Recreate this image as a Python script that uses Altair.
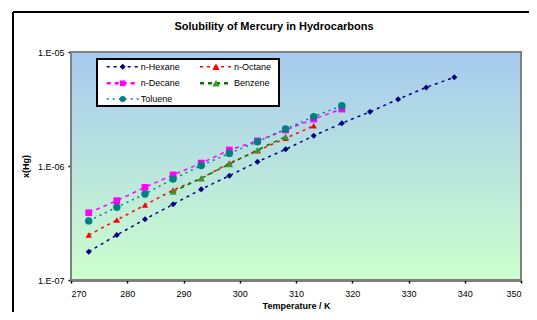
import altair as alt
import pandas as pd

title_text = "Solubility of Mercury in Hydrocarbons"
x_title = "Temperature / K"
y_title = "x(Hg)"
x_ticks = [270, 280, 290, 300, 310, 320, 330, 340, 350]
y_ticks = [1e-7, 1e-6, 1e-5]

series_names = ["n-Hexane", "n-Octane", "n-Decane", "Benzene", "Toluene"]

hexane_T = [273.15, 278.15, 283.15, 288.15, 293.15, 298.15, 303.15, 308.15,
            313.15, 318.15, 323.15, 328.15, 333.15, 338.15]
hexane_x = [1.77e-7, 2.48e-7, 3.41e-7, 4.61e-7, 6.25e-7, 8.22e-7, 1.09e-6, 1.40e-6,
            1.84e-6, 2.37e-6, 2.99e-6, 3.85e-6, 4.89e-6, 6.00e-6]

octane_T = [273.15, 278.15, 283.15, 288.15, 293.15, 298.15, 303.15, 308.15, 313.15]
octane_x = [2.48e-7, 3.36e-7, 4.55e-7, 6.15e-7, 7.79e-7, 1.06e-6, 1.36e-6, 1.75e-6, 2.25e-6]

decane_T = [273.15, 278.15, 283.15, 288.15, 293.15, 298.15, 303.15, 308.15, 313.15, 318.15]
decane_x = [3.89e-7, 4.96e-7, 6.50e-7, 8.35e-7, 1.06e-6, 1.38e-6, 1.66e-6, 2.07e-6, 2.58e-6, 3.16e-6]

benzene_T = [288.15, 293.15, 298.15, 303.15, 308.15]
benzene_x = [5.96e-7, 7.80e-7, 1.04e-6, 1.38e-6, 1.81e-6]

toluene_T = [273.15, 278.15, 283.15, 288.15, 293.15, 298.15, 303.15, 308.15, 313.15, 318.15]
toluene_x = [3.30e-7, 4.35e-7, 5.68e-7, 7.69e-7, 1.01e-6, 1.29e-6, 1.63e-6, 2.11e-6, 2.71e-6, 3.38e-6]

line_colors = ["#000080", "#FF0000", "#FF00FF", "#008000", "#008080"]
fill_colors = ["#000080", "#FF0000", "#FF00FF", "#339933", "#008080"]
shapes = ["diamond", "triangle-up", "square", "triangle-up", "circle"]
dashes = [[3, 4], [3, 4], [4, 4], [4, 4], [2, 4]]
widths = [1.5, 1.5, 2.5, 2.5, 1.5]
sizes = [36, 55, 32, 55, 36]

FONT = "Liberation Sans"
W, H = 450, 228

rows = []
for name, Ts, xs in zip(series_names,
                        [hexane_T, octane_T, decane_T, benzene_T, toluene_T],
                        [hexane_x, octane_x, decane_x, benzene_x, toluene_x]):
    for t, v in zip(Ts, xs):
        rows.append({"series": name, "T": t, "xHg": v})
df = pd.DataFrame(rows)

xscale = alt.Scale(domain=[270, 350], nice=False, zero=False)
yscale = alt.Scale(type="log", domain=[1e-7, 1e-5], nice=False)

X = alt.X("T:Q", scale=xscale,
          axis=alt.Axis(values=x_ticks, format="d", title=x_title, grid=False,
                        tickColor="black", tickSize=3, tickWidth=1.5, labelPadding=6,
                        titlePadding=3))
Y = alt.Y("xHg:Q", scale=yscale,
          axis=alt.Axis(values=y_ticks, grid=False, title=y_title,
                        labelExpr="'1.E-0' + round(-log(datum.value)/LN10)",
                        tickColor="black", tickSize=3, tickWidth=1.5, labelPadding=4,
                        titlePadding=7))

one = pd.DataFrame({"a": [0]})

bg = alt.Chart(one).mark_rect(
    fill=alt.Gradient(gradient="linear",
                      stops=[alt.GradientStop(color="#a6caf0", offset=0),
                             alt.GradientStop(color="#ccffcc", offset=1)],
                      x1=0, x2=0, y1=0, y2=1)
).encode(x=alt.value(0), x2=alt.value(W), y=alt.value(0), y2=alt.value(H))

border = alt.Chart(one).mark_rect(
    fillOpacity=0, stroke="#808080", strokeWidth=2
).encode(x=alt.value(0), x2=alt.value(W), y=alt.value(0), y2=alt.value(H))

frame_top = alt.Chart(one).mark_rule(color="black", strokeWidth=2).encode(
    x=alt.value(-58), x2=alt.value(464), y=alt.value(-40))
frame_left = alt.Chart(one).mark_rule(color="black", strokeWidth=2).encode(
    x=alt.value(-58), y=alt.value(-40), y2=alt.value(260))

lines = alt.Chart(df).mark_line().encode(
    x=X, y=Y,
    color=alt.Color("series:N", scale=alt.Scale(domain=series_names, range=line_colors), legend=None),
    strokeDash=alt.StrokeDash("series:N", scale=alt.Scale(domain=series_names, range=dashes), legend=None),
    strokeWidth=alt.StrokeWidth("series:N", scale=alt.Scale(domain=series_names, range=widths), legend=None),
    order="T:Q",
)

points = alt.Chart(df).mark_point(filled=True, opacity=1).encode(
    x="T:Q", y="xHg:Q",
    fill=alt.Fill("series:N", scale=alt.Scale(domain=series_names, range=fill_colors), legend=None),
    shape=alt.Shape("series:N", scale=alt.Scale(domain=series_names, range=shapes), legend=None),
    size=alt.Size("series:N", scale=alt.Scale(domain=series_names, range=sizes), legend=None),
)

title = alt.Chart(one).mark_text(
    font=FONT, fontSize=11, fontWeight="bold", align="center", baseline="middle", color="black"
).encode(x=alt.value(203), y=alt.value(-25), text=alt.value(title_text))

legend_box = alt.Chart(one).mark_rect(
    fill="white", stroke="black", strokeWidth=2
).encode(x=alt.value(26), x2=alt.value(208), y=alt.value(7), y2=alt.value(54))

legend_layers = [legend_box]
pos = [(51.7, 14.7), (145, 14.7), (51.7, 31.3), (145, 31.3), (51.7, 47)]
for i, name in enumerate(series_names):
    cx, cy = pos[i]
    d = alt.Chart(pd.DataFrame({"series": [name]}))
    legend_layers.append(d.mark_rule(color=line_colors[i], strokeDash=dashes[i],
                                     strokeWidth=widths[i]).encode(
        x=alt.value(cx - 16), x2=alt.value(cx + 16), y=alt.value(cy)))
    legend_layers.append(d.mark_point(filled=True, opacity=1, shape=shapes[i],
                                      fill=fill_colors[i], size=sizes[i]).encode(
        x=alt.value(cx), y=alt.value(cy)))
    legend_layers.append(d.mark_text(font=FONT, fontSize=9, align="left",
                                     baseline="middle", color="black").encode(
        x=alt.value(cx + 18), y=alt.value(cy), text="series:N"))

chart = alt.layer(bg, lines, points, border, frame_top, frame_left,
                  title, *legend_layers).properties(
    width=W, height=H,
    autosize=alt.AutoSizeParams(type="none"),
    padding={"left": 63, "top": 44, "right": 8, "bottom": 32},
).configure_view(stroke=None).configure_axis(
    labelFont=FONT, labelFontSize=9, labelColor="black",
    titleFont=FONT, titleFontSize=9, titleFontWeight="bold", titleColor="black",
    domainColor="black", domainWidth=2,
)

chart.save("out.html", embed_options={"renderer": "svg", "actions": False})
